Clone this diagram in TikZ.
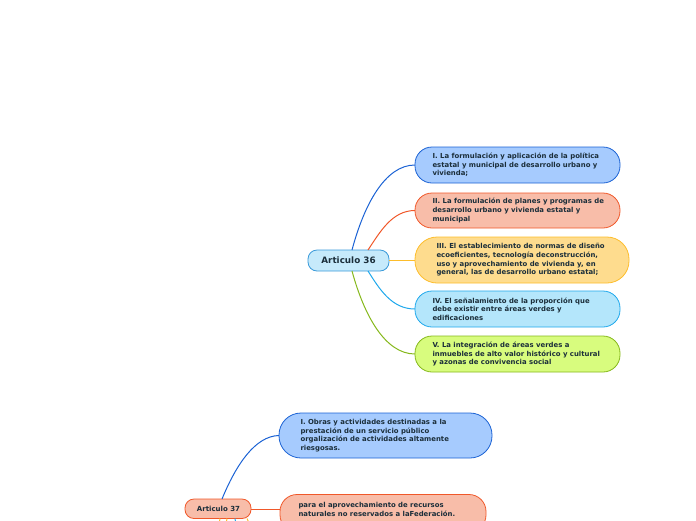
\documentclass[tikz,border=0pt]{standalone}
\usepackage{fontspec}
\setmainfont{DejaVu Sans}
\definecolor{txt}{HTML}{1B2E3A}
\definecolor{blueF}{HTML}{A6CBFE}\definecolor{blueD}{HTML}{1B62D4}
\definecolor{redF}{HTML}{F8BDA9}\definecolor{redD}{HTML}{F0582A}
\definecolor{yelF}{HTML}{FEDC8E}\definecolor{yelD}{HTML}{FDBD2B}
\definecolor{cyaF}{HTML}{B4E6FB}\definecolor{cyaD}{HTML}{1FA8EC}
\definecolor{grnF}{HTML}{D8FC7E}\definecolor{grnD}{HTML}{86B81C}
\definecolor{rootF}{HTML}{C6EAFB}\definecolor{rootD}{HTML}{3A9AD9}
\begin{document}
\begin{tikzpicture}[x=1pt,y=-1pt,
  box/.style={rounded corners=17pt,line width=0.8pt,inner sep=0pt},
  lbl/.style={anchor=west,align=left,text=txt,font=\fontsize{6.9}{8.7}\selectfont\bfseries},
  con/.style={line width=1pt}]
\useasboundingbox (0,0) rectangle (696,520);
% Articulo 36
\draw[rounded corners=9pt,line width=0.8pt,draw=rootD,fill=rootF] (308,250) rectangle (389,271);
\node[text=txt,font=\fontsize{8.8}{10}\selectfont\bfseries] (a36) at (348.5,260.5) {Articulo 36};
\coordinate (a36t1) at (352,250);
\coordinate (a36t2) at (368,250);
\coordinate (a36r) at (389,260);
\coordinate (a36b2) at (368,271);
\coordinate (a36b1) at (352,271);
% children
\draw[box,draw=blueD,fill=blueF] (415,147) rectangle (620,183);
\coordinate (c1) at (415,165);
\node[lbl] (t1) at (429,165) {I. La formulación y aplicación de la política\\estatal y municipal de desarrollo urbano y\\vivienda;};
\draw[box,draw=redD,fill=redF] (415,193) rectangle (620,228);
\coordinate (c2) at (415,210.5);
\node[lbl] (t2) at (429,210.5) {II. La formulación de planes y programas de\\desarrollo urbano y vivienda estatal y\\municipal};
\draw[box,rounded corners=22pt,draw=yelD,fill=yelF] (415,237) rectangle (629,283);
\coordinate (c3) at (415,260);
\node[lbl] (t3) at (433,260) {III. El establecimiento de normas de diseño\\ecoeficientes, tecnología deconstrucción,\\uso y aprovechamiento de vivienda y, en\\general, las de desarrollo urbano estatal;};
\draw[box,draw=cyaD,fill=cyaF] (415,291) rectangle (620,327);
\coordinate (c4) at (415,309);
\node[lbl] (t4) at (429,309) {IV. El señalamiento de la proporción que\\debe existir entre áreas verdes y\\edificaciones};
\draw[box,draw=grnD,fill=grnF] (415,336) rectangle (620,372);
\coordinate (c5) at (415,354);
\node[lbl] (t5) at (429,354) {V. La integración de áreas verdes a\\inmuebles de alto valor histórico y cultural\\y azonas de convivencia social};
% connectors
\draw[con,blueD] (a36t1) .. controls (364,205) and (385,165) .. (c1);
\draw[con,redD] (a36t2) .. controls (380,232) and (392,210.5) .. (c2);
\draw[con,yelD] (a36r) -- (c3);
\draw[con,cyaD] (a36b2) .. controls (380,290) and (392,309) .. (c4);
\draw[con,grnD] (a36b1) .. controls (364,315) and (385,354) .. (c5);
% Articulo 37
\draw[rounded corners=9pt,line width=0.8pt,draw=redD,fill=redF] (185,499) rectangle (251,518.5);
\node[text=txt,font=\fontsize{7.0}{8}\selectfont\bfseries] (a37) at (218.5,509) {Articulo 37};
\coordinate (a37t) at (222,499);
\coordinate (a37r) at (251,509);
\draw[box,rounded corners=22pt,draw=blueD,fill=blueF] (279,413) rectangle (492,458);
\coordinate (d1) at (279,435.5);
\node[lbl] (u1) at (297,435.5) {I. Obras y actividades destinadas a la\\prestación de un servicio público\\orgalización de actividades altamente\\riesgosas.};
\draw[box,draw=redD,fill=redF] (280,494.5) rectangle (486,532);
\coordinate (d2) at (280,509);
\node[lbl] (u2) at (295,509.5) {para el aprovechamiento de recursos\\naturales no reservados a laFederación.};
\draw[con,blueD] (a37t) .. controls (236,465) and (255,436) .. (d1);
\draw[con,redD] (a37r) -- (d2);
% stubs to off-page children
\coordinate (s1) at (219,525);
\coordinate (s2) at (226,525);
\coordinate (s3) at (236,525);
\coordinate (s4) at (250,525);
\draw[con,yelD] (220,518.5) -- (s1);
\draw[con,yelD] (227,518.5) -- (s2);
\draw[con,cyaD] (235,518.5) -- (s3);
\draw[con,yelD] (247,518.5) -- (s4);
\end{tikzpicture}
\end{document}
